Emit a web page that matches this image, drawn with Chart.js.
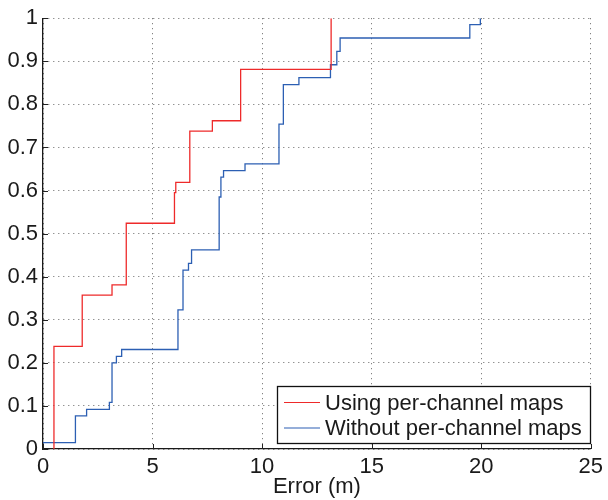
<!DOCTYPE html>
<html>
<head>
<meta charset="utf-8">
<script src="https://cdn.jsdelivr.net/npm/chart.js@4/dist/chart.umd.min.js"></script>
<style>
  html, body { margin: 0; padding: 0; background: #fff; }
  #wrap { width: 608px; height: 500px; position: relative; }
</style>
</head>
<body>
<div id="wrap"><canvas id="c" width="608" height="500"></canvas></div>
<script>
// ---- data ----
const seriesNames = ['Using per-channel maps', 'Without per-channel maps'];
const seriesColors = ['#ee2a2a', '#2c5fb3'];

const redX = [0.50, 0.50, 1.79, 3.15, 3.80, 6.00, 6.06, 6.70, 7.73, 9.02, 13.15];
const redY = [0.000, 0.238, 0.357, 0.381, 0.524, 0.595, 0.619, 0.738, 0.762, 0.881, 1.000];

const blueX = [0.00, 1.48, 1.99, 3.03, 3.15, 3.35, 3.59, 6.16, 6.39, 6.64, 6.78, 8.04, 8.12, 8.24,
               9.22, 10.77, 10.97, 11.68, 13.12, 13.41, 13.56, 19.48, 19.96];
const blueY = [0.015, 0.077, 0.092, 0.108, 0.200, 0.215, 0.231, 0.323, 0.415, 0.431, 0.462, 0.585, 0.631, 0.646,
               0.662, 0.754, 0.846, 0.862, 0.892, 0.923, 0.954, 0.985, 1.000];

const xTickLabels = ['0', '5', '10', '15', '20', '25'];
const yTickLabels = ['0', '0.1', '0.2', '0.3', '0.4', '0.5', '0.6', '0.7', '0.8', '0.9', '1'];
const xTitle = 'Error (m)';

// ---- build ----
const toPts = (xs, ys) => xs.map((x, i) => ({ x: x, y: ys[i] }));
const FONT = 'Liberation Sans, Arial, Helvetica, sans-serif';

const innerTicks = {
  id: 'innerTicks',
  afterDatasetsDraw(chart) {
    const ctx = chart.ctx, xs = chart.scales.x, ys = chart.scales.y;
    const a = chart.chartArea;
    ctx.save();
    ctx.strokeStyle = '#222';
    ctx.lineWidth = 1;
    ctx.beginPath();
    xs.ticks.forEach(t => {
      const px = Math.round(xs.getPixelForValue(t.value)) + 0.5;
      ctx.moveTo(px, a.bottom); ctx.lineTo(px, a.bottom - 5);
    });
    ys.ticks.forEach(t => {
      const py = Math.round(ys.getPixelForValue(t.value)) + 0.5;
      ctx.moveTo(a.left, py); ctx.lineTo(a.left + 5, py);
    });
    ctx.stroke();
    ctx.restore();
  }
};

const boxLegend = {
  id: 'boxLegend',
  afterDraw(chart) {
    const ctx = chart.ctx;
    const x0 = 277, y0 = 386, w = 313, h = 57;
    ctx.save();
    ctx.fillStyle = '#fff';
    ctx.fillRect(x0, y0, w, h);
    ctx.strokeStyle = '#111';
    ctx.lineWidth = 1.3;
    ctx.strokeRect(x0 + 0.5, y0 + 0.5, w, h);
    ctx.font = '22px ' + FONT;
    ctx.textBaseline = 'middle';
    ctx.textAlign = 'left';
    chart.data.datasets.forEach((ds, i) => {
      const cy = y0 + 16.5 + i * 25.5;
      ctx.strokeStyle = ds.borderColor;
      ctx.lineWidth = 1.2;
      ctx.beginPath();
      ctx.moveTo(x0 + 7, cy); ctx.lineTo(x0 + 43, cy);
      ctx.stroke();
      ctx.fillStyle = '#1a1a1a';
      ctx.fillText(ds.label, x0 + 48, cy + 1);
    });
    ctx.restore();
  }
};

new Chart(document.getElementById('c'), {
  type: 'scatter',
  data: {
    datasets: [
      { label: seriesNames[0], data: toPts(redX, redY), showLine: true, stepped: 'before',
        borderColor: seriesColors[0], borderWidth: 1.3, pointRadius: 0, fill: false },
      { label: seriesNames[1], data: toPts(blueX, blueY), showLine: true, stepped: 'before',
        borderColor: seriesColors[1], borderWidth: 1.3, pointRadius: 0, fill: false }
    ]
  },
  options: {
    responsive: false,
    animation: false,
    layout: { padding: { top: 15, right: 11, left: 0, bottom: 0 } },
    plugins: { legend: { display: false }, tooltip: { enabled: false } },
    scales: {
      x: {
        type: 'linear', min: 0, max: 25,
        afterFit(s) { s.height = 51; },
        ticks: { stepSize: 5, padding: 5, color: '#1a1a1a', font: { family: FONT, size: 22 },
                 maxRotation: 0, callback: (v, i) => xTickLabels[i] },
        grid: { color: '#666', lineWidth: 1, drawTicks: false },
        border: { display: true, color: '#1a1a1a', width: 1.3, dash: [1, 4] },
        title: { display: true, text: xTitle, color: '#1a1a1a', font: { family: FONT, size: 22 },
                 padding: { top: 0, bottom: 0 } }
      },
      y: {
        type: 'linear', min: 0, max: 1,
        afterFit(s) { s.width = 43; },
        ticks: { stepSize: 0.1, padding: 5, color: '#1a1a1a', font: { family: FONT, size: 22 },
                 callback: (v, i) => yTickLabels[i] },
        grid: { color: '#666', lineWidth: 1, drawTicks: false },
        border: { display: true, color: '#1a1a1a', width: 1.3, dash: [1, 4] }
      }
    }
  },
  plugins: [innerTicks, boxLegend]
});
</script>
</body>
</html>
